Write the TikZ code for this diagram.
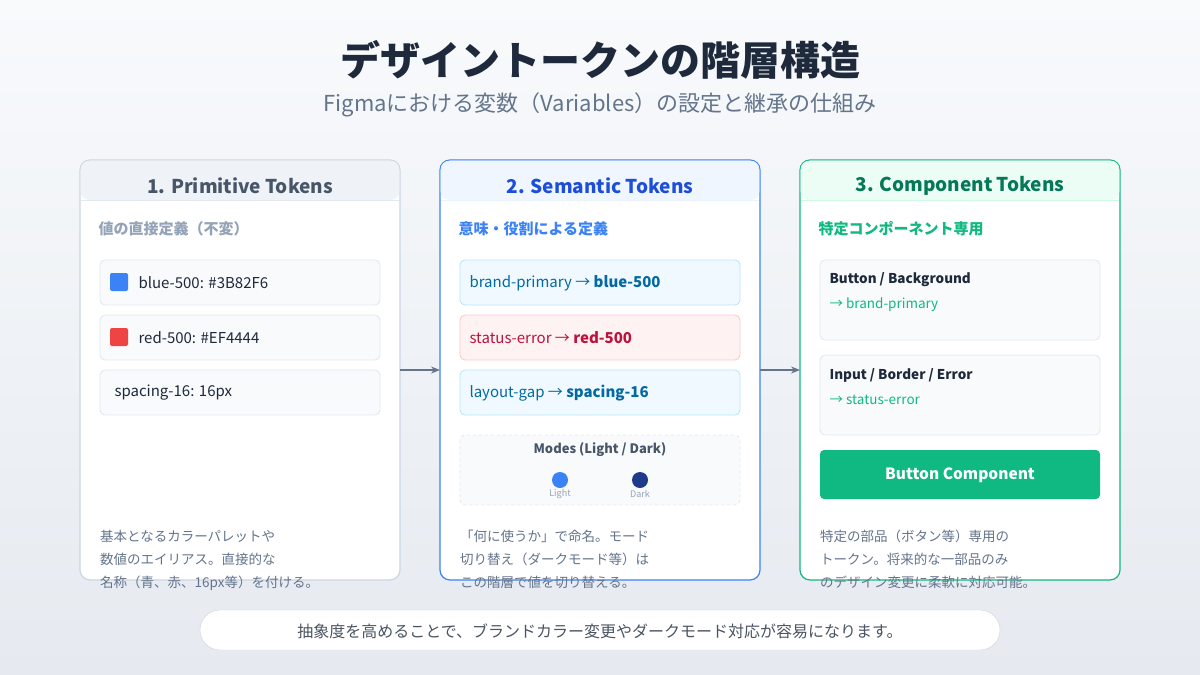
\documentclass[tikz,border=0pt]{standalone}
\usepackage{fontspec}
\setmainfont{Noto Sans CJK JP}
\usetikzlibrary{positioning,arrows.meta}
\definecolor{slateA}{HTML}{1E293B}
\definecolor{slateB}{HTML}{475569}
\definecolor{slateC}{HTML}{64748B}
\definecolor{slateD}{HTML}{94A3B8}
\definecolor{lineA}{HTML}{CBD5E1}
\definecolor{lineB}{HTML}{E2E8F0}
\definecolor{paleA}{HTML}{F8FAFC}
\definecolor{bgB}{HTML}{E6EAF0}
\definecolor{blueA}{HTML}{3B82F6}
\definecolor{blueB}{HTML}{1D4ED8}
\definecolor{blueC}{HTML}{EFF6FF}
\definecolor{navy}{HTML}{1E3A8A}
\definecolor{skyA}{HTML}{F0F9FF}
\definecolor{skyB}{HTML}{BAE6FD}
\definecolor{skyC}{HTML}{0369A1}
\definecolor{roseA}{HTML}{FEF2F2}
\definecolor{roseB}{HTML}{FECACA}
\definecolor{roseC}{HTML}{BE123C}
\definecolor{redA}{HTML}{EF4444}
\definecolor{greenA}{HTML}{10B981}
\definecolor{greenB}{HTML}{047857}
\definecolor{greenC}{HTML}{ECFDF5}
\definecolor{greenD}{HTML}{D1FAE5}
\tikzset{
  card/.style={rounded corners=10pt, fill=white, line width=1.2pt},
  cardhead/.style={font=\bfseries\fontsize{19}{22}\selectfont},
  cardsub/.style={anchor=west, font=\bfseries\fontsize{15}{18}\selectfont},
  item/.style={rounded corners=5pt, line width=0.9pt},
  itemtext/.style={anchor=west, font=\fontsize{15}{18}\selectfont},
  desc/.style={anchor=north west, align=left, text=slateC, font=\fontsize{13.5}{23}\selectfont, inner sep=0pt},
  flow/.style={-{Stealth[length=9pt,width=7pt]}, draw=slateC, line width=1.3pt}
}
\begin{document}
\begin{tikzpicture}[x=1pt,y=-1pt]
	%background
	\shade[top color=paleA, bottom color=bgB] (0,0) rectangle (1200,675);
	\useasboundingbox (0,0) rectangle (1200,675);
	
	%title
	\node[font=\bfseries\fontsize{40}{44}\selectfont, text=slateA] (title) at (600,60) {デザイントークンの階層構造};
	\node[font=\fontsize{22}{26}\selectfont, text=slateC] (subtitle) at (600,105) {Figmaにおける変数（Variables）の設定と継承の仕組み};
	
	%cards
	\draw[card, draw=lineA] (80,160) rectangle (400,580);
	\draw[card, draw=blueA] (440,160) rectangle (760,580);
	\draw[card, draw=greenA] (800,160) rectangle (1120,580);
	%headers
	\fill[paleA!60!lineB, rounded corners=9pt] (80.6,160.6) -- (399.4,160.6) -- (399.4,200) -- (80.6,200) -- cycle;
	\fill[blueC, rounded corners=9pt] (440.6,160.6) -- (759.4,160.6) -- (759.4,200) -- (440.6,200) -- cycle;
	\fill[greenC, rounded corners=9pt] (800.6,160.6) -- (1119.4,160.6) -- (1119.4,200) -- (800.6,200) -- cycle;
	\draw[lineB, line width=1pt] (81,200) -- (399,200);
	\draw[blueC!70!blueA!30, line width=1pt] (441,200) -- (759,200);
	\draw[greenD, line width=1pt] (801,200) -- (1119,200);
	\node[cardhead, text=slateB] (h1) at (240,186) {1. Primitive Tokens};
	\node[cardhead, text=blueB] (h2) at (600,186) {2. Semantic Tokens};
	\node[cardhead, text=greenB] (h3) at (960,186) {3. Component Tokens};
	
	%primitive
	\node[cardsub, text=slateD] (s1) at (95,229) {値の直接定義（不変）};
	\foreach \y in {260,315,370}
		\draw[item, fill=paleA, draw=lineB] (100,\y) rectangle (380,\y+45);
	\fill[blueA, rounded corners=2pt] (110,273) rectangle (128,291);
	\fill[redA, rounded corners=2pt] (110,328) rectangle (128,346);
	\node[itemtext, text=slateA] (p1) at (135,283) {blue-500: \#3B82F6};
	\node[itemtext, text=slateA] (p2) at (135,338) {red-500: \#EF4444};
	\node[itemtext, text=slateA] (p3) at (111,393) {spacing-16: 16px};
	
	%semantic
	\node[cardsub, text=blueA] (s2) at (455,229) {意味・役割による定義};
	\draw[item, fill=skyA, draw=skyB] (460,260) rectangle (740,305);
	\draw[item, fill=roseA, draw=roseB] (460,315) rectangle (740,360);
	\draw[item, fill=skyA, draw=skyB] (460,370) rectangle (740,415);
	\node[itemtext, text=skyC] (m1) at (466,283) {brand-primary → \textbf{blue-500}};
	\node[itemtext, text=roseC] (m2) at (466,338) {status-error → \textbf{red-500}};
	\node[itemtext, text=skyC] (m3) at (466,393) {layout-gap → \textbf{spacing-16}};
	\draw[item, fill=paleA, draw=lineB, dashed] (460,435) rectangle (740,505);
	\node[font=\bfseries\fontsize{13}{16}\selectfont, text=slateB] (modes) at (600,450) {Modes (Light / Dark)};
	\fill[blueA] (560,480) circle (8);
	\fill[navy] (640,480) circle (8);
	\node[font=\fontsize{9}{11}\selectfont, text=slateD] (light) at (560,494) {Light};
	\node[font=\fontsize{9}{11}\selectfont, text=slateD] (dark) at (640,494) {Dark};
	
	%component
	\node[cardsub, text=greenA] (s3) at (815,229) {特定コンポーネント専用};
	\draw[item, fill=paleA, draw=lineB] (820,260) rectangle (1100,340);
	\draw[item, fill=paleA, draw=lineB] (820,355) rectangle (1100,435);
	\node[anchor=west, font=\bfseries\fontsize{13.5}{16}\selectfont, text=slateA] (c1) at (826,280) {Button / Background};
	\node[anchor=west, font=\fontsize{13.5}{16}\selectfont, text=greenA] (c1v) at (826,305) {→ brand-primary};
	\node[anchor=west, font=\bfseries\fontsize{13.5}{16}\selectfont, text=slateA] (c2) at (826,375) {Input / Border / Error};
	\node[anchor=west, font=\fontsize{13.5}{16}\selectfont, text=greenA] (c2v) at (826,400) {→ status-error};
	\fill[greenA, rounded corners=4pt] (820,450) rectangle (1100,499);
	\node[font=\bfseries\fontsize{15.5}{18}\selectfont, text=white] (btn) at (960,475) {Button Component};
	
	%descriptions
	\node[desc] (d1) at (100,530) {基本となるカラーパレットや\\数値のエイリアス。直接的な\\名称（青、赤、16px等）を付ける。};
	\node[desc] (d2) at (460,530) {「何に使うか」で命名。モード\\切り替え（ダークモード等）は\\この階層で値を切り替える。};
	\node[desc] (d3) at (820,530) {特定の部品（ボタン等）専用の\\トークン。将来的な一部品のみ\\のデザイン変更に柔軟に対応可能。};
	
	%arrows
	\coordinate (a1) at (400,370);
	\coordinate (a2) at (440,370);
	\coordinate (b1) at (760,370);
	\coordinate (b2) at (800,370);
	\draw[flow] (a1) -- (a2);
	\draw[flow] (b1) -- (b2);
	
	%footer
	\draw[fill=white, draw=lineA, rounded corners=20pt] (200,610) rectangle (1000,650);
	\node[font=\fontsize{16}{19}\selectfont, text=slateA!80] (foot) at (600,631) {抽象度を高めることで、ブランドカラー変更やダークモード対応が容易になります。};
\end{tikzpicture}
\end{document}
